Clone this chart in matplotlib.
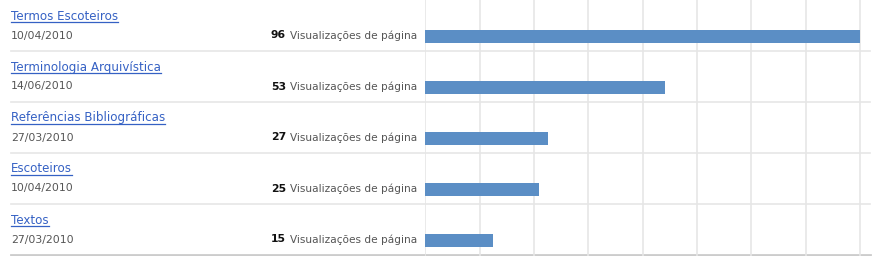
import matplotlib.pyplot as plt

titles = ['Termos Escoteiros', 'Terminologia Arquivística', 'Referências Bibliográficas',
          'Escoteiros', 'Textos']
dates = ['10/04/2010', '14/06/2010', '27/03/2010', '10/04/2010', '27/03/2010']
views = [96, 53, 27, 25, 15]
label = 'Visualizações de página'

W, H = 884, 256
row_h = 51
fig = plt.figure(figsize=(W / 100, H / 100), dpi=100)

# background axes in pixel coords for texts and row lines
bg = fig.add_axes([0, 0, 1, 1])
bg.set_xlim(0, W)
bg.set_ylim(H, 0)
bg.axis('off')

# bar axes: 0 at x=425px, 96 at x=860px, right edge at 870px
x0, x1 = 425, 870
bx = fig.add_axes([x0 / W, 0, (x1 - x0) / W, 1])
bx.set_ylim(H, 0)
bx.set_xlim(-0.1, 96 * (x1 - x0) / (860 - x0))
bx.axis('off')
for g in range(0, 97, 12):
    bx.axvline(g, color='#e6e6e6', lw=1.2, zorder=0)

for i, (t, d, v) in enumerate(zip(titles, dates, views)):
    top = i * row_h
    bg.text(11, top + 16, t, fontsize=8.6, color='#3561c4', va='center', ha='left')
    bg.text(11, top + 35.5, d, fontsize=7.8, color='#555555', va='center', ha='left')
    bg.text(286, top + 35.5, str(v), fontsize=7.8, color='#111111', fontweight='bold',
            va='center', ha='right')
    bg.text(290, top + 35.5, label, fontsize=7.55, color='#555555', va='center', ha='left')
    bx.barh(top + 36.5, v, height=13, color='#5b8ec5', zorder=2)
    if i < len(titles) - 1:
        bg.plot([11, 870], [top + 50.5, top + 50.5], color='#e6e6e6', lw=1.2)

bg.plot([11, 870], [254.5, 254.5], color='#cccccc', lw=2)

# underline each title using its rendered extent
fig.canvas.draw()
r = fig.canvas.get_renderer()
inv = bg.transData.inverted()
for txt in bg.texts:
    if txt.get_text() in titles:
        bb = txt.get_window_extent(r)
        (xa, _), (xb, _) = inv.transform([(bb.x0, bb.y0), (bb.x1, bb.y0)])
        y = txt.get_position()[1] + 6
        bg.plot([xa, xb], [y, y], color='#3561c4', lw=0.9)

fig.savefig('out.png', dpi=100)
